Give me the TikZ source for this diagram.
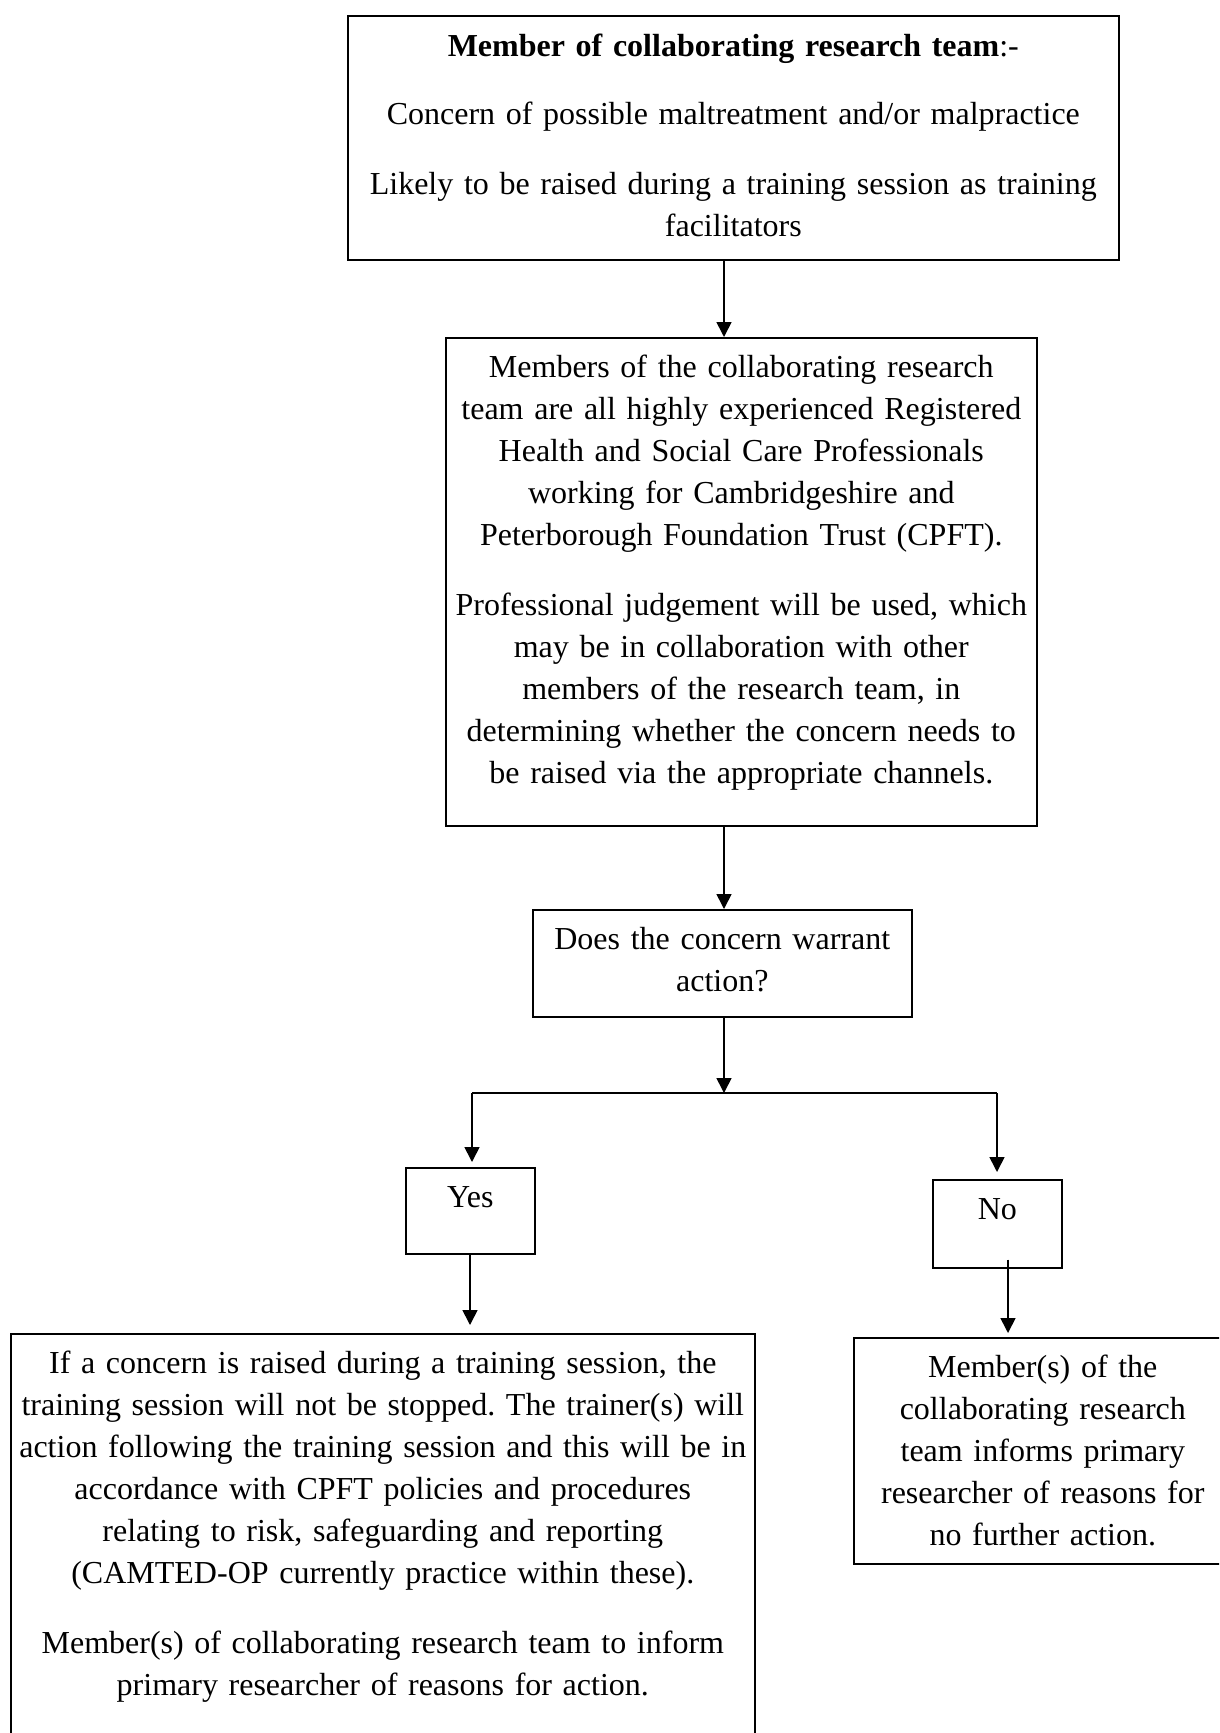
\documentclass[tikz,border=0pt]{standalone}
\usepackage{fontspec}
\setmainfont{Liberation Serif}
\usetikzlibrary{arrows.meta,calc}
\frenchspacing
\begin{document}
\begin{tikzpicture}[x=1pt,y=-1pt,
  flowbox/.style={draw=black, line width=1.6pt, inner sep=0pt, anchor=north west,
    align=center, font=\fontsize{32}{42}\selectfont\frenchspacing},
  flowline/.style={line width=1.6pt},
  flowarrow/.style={line width=1.6pt, -{Triangle[length=15pt,width=15pt]}},
]
\path[use as bounding box] (0,0) rectangle (1219,1733);
\clip (0,0) rectangle (1219,1733);

% boxes: anchored at their top-left corner; text height = top border to first baseline,
% text depth = first baseline to bottom border
\node[flowbox, text width=771pt, text height=41pt, text depth=203pt] (b1) at (347,15)
  {{\bfseries Member of collaborating research team}:-\\[26pt]
   Concern of possible maltreatment and/or malpractice\\[28pt]
   Likely to be raised during a training session as training\\
   facilitators};

\node[flowbox, text width=591pt, text height=40pt, text depth=448pt] (b2) at (445,337)
  {Members of the collaborating research\\
   team are all highly experienced Registered\\
   Health and Social Care Professionals\\
   working for Cambridgeshire and\\
   Peterborough Foundation Trust (CPFT).\\[28pt]
   Professional judgement will be used, which\\
   may be in collaboration with other\\
   members of the research team, in\\
   determining whether the concern needs to\\
   be raised via the appropriate channels.};

\node[flowbox, text width=379pt, text height=40pt, text depth=67pt] (b3) at (532,909)
  {Does the concern warrant\\action?};

\node[flowbox, text width=129pt, text height=40pt, text depth=46pt] (yes) at (405,1167) {Yes};
\node[flowbox, text width=129pt, text height=40pt, text depth=48pt] (no) at (932,1179) {No};

\node[flowbox, text width=744pt, text height=40pt, text depth=387pt] (act) at (10,1333)
  {If a concern is raised during a training session, the\\
   training session will not be stopped. The trainer(s) will\\
   action following the training session and this will be in\\
   accordance with CPFT policies and procedures\\
   relating to risk, safeguarding and reporting\\
   (CAMTED-OP currently practice within these).\\[28pt]
   Member(s) of collaborating research team to inform\\
   primary researcher of reasons for action.};

\node[flowbox, text width=378pt, text height=40pt, text depth=186pt] (inform) at (853,1337)
  {Member(s) of the\\
   collaborating research\\
   team informs primary\\
   researcher of reasons for\\
   no further action.};

% connectors
\coordinate (spine) at (724,0);
\coordinate (fork) at (724,1093);
\coordinate (forkL) at (472,1093);
\coordinate (forkR) at (997,1093);
\coordinate (yesdrop) at (470,0);
\coordinate (nodrop) at (1008,0);

\draw[flowarrow] (b1.south -| spine) -- (b2.north -| spine);
\draw[flowarrow] (b2.south -| spine) -- (b3.north -| spine);
\draw[flowarrow] (b3.south -| spine) -- (fork);
\draw[flowline] (forkL) -- (forkR);
\draw[flowarrow, shorten >=5pt] (forkL) -- (yes.north -| forkL);
\draw[flowarrow, shorten >=7pt] (forkR) -- (no.north -| forkR);
\draw[flowarrow, shorten >=8pt] (yes.south -| yesdrop) -- (act.north -| yesdrop);
\draw[flowarrow, shorten >=4pt] ($(no.south -| nodrop)+(0,-9)$) -- (inform.north -| nodrop);
\end{tikzpicture}
\end{document}
